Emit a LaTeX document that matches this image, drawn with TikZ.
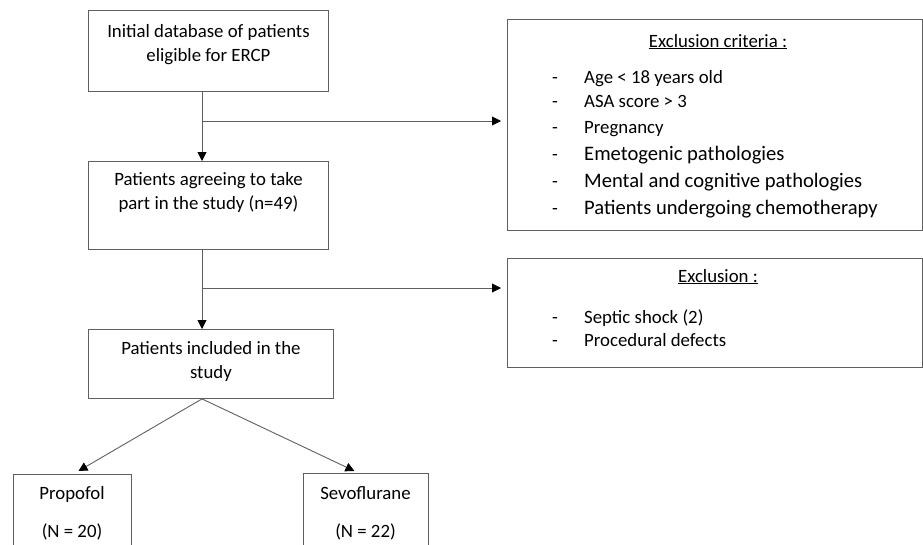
\documentclass[tikz,border=0pt]{standalone}
\usepackage{fontspec}
\setmainfont{Carlito}
\usepackage{xcolor}
\usetikzlibrary{arrows.meta}
\definecolor{linegray}{RGB}{95,95,95}
\tikzstyle{box} = [draw=linegray, line width=0.9pt, inner sep=0pt, anchor=north west]
\tikzstyle{boxtext} = [align=center, anchor=north, inner sep=0pt, font=\fontsize{18.8}{24}\selectfont]
\tikzstyle{txt} = [anchor=base, inner sep=0pt, font=\fontsize{18.8}{24}\selectfont]
\tikzstyle{item} = [anchor=base west, inner sep=0pt, font=\fontsize{18.8}{24}\selectfont]
\tikzstyle{bigitem} = [anchor=base west, inner sep=0pt, font=\fontsize{20.6}{24}\selectfont]
\tikzstyle{arrow} = [draw=linegray, line width=0.9pt, -{Triangle[length=9pt,width=9pt,color=black]}]

\begin{document}
\begin{tikzpicture}[x=1pt, y=-1pt]
\useasboundingbox (0,0) rectangle (923,544);
\clip (0,0) rectangle (923,544);

% left column
\node[box, minimum width=240, minimum height=81] (init) at (88,10) {};
\node[boxtext] (initT) at ([yshift=-14.5pt]init.north) {Initial database of patients\\eligible for ERCP};
\node[box, minimum width=240, minimum height=88] (agree) at (88,161) {};
\node[boxtext] (agreeT) at ([yshift=-11.5pt]agree.north) {Patients agreeing to take\\part in the study (n=49)};
\node[box, minimum width=245, minimum height=69] (incl) at (88,329) {};
\node[boxtext] (inclT) at ([yshift=-12.5pt]incl.north) {Patients included in the\\study};

% groups
\node[box, minimum width=118, minimum height=90] (propo) at (13,474) {};
\node[txt] (propoT) at (72,499) {Propofol};
\node[txt] (propoN) at (72,537) {(N = 20)};
\node[box, minimum width=125, minimum height=90] (sevo) at (303,473) {};
\node[txt] (sevoT) at (365.5,499) {Sevoflurane};
\node[txt] (sevoN) at (365.5,537) {(N = 22)};

% exclusion criteria
\node[box, minimum width=415, minimum height=211] (crit) at (507,19) {};
\node[txt] (critT) at (718,47) {\underline{Exclusion criteria :}};
\node[txt] (h1) at (555,83) {-};
\node[item] (c1) at (584,83) {Age < 18 years old};
\node[txt] (h2) at (555,107) {-};
\node[item] (c2) at (584,107) {ASA score > 3};
\node[txt] (h3) at (555,133) {-};
\node[item] (c3) at (584,133) {Pregnancy};
\node[txt] (h4) at (555,160) {-};
\node[bigitem] (c4) at (584,160) {Emetogenic pathologies};
\node[txt] (h5) at (555,187) {-};
\node[bigitem] (c5) at (584,187) {Mental and cognitive pathologies};
\node[txt] (h6) at (555,214) {-};
\node[bigitem] (c6) at (584,214) {Patients undergoing chemotherapy};

% exclusion
\node[box, minimum width=415, minimum height=109] (excl) at (507,258) {};
\node[txt] (exclT) at (718,282) {\underline{Exclusion :}};
\node[txt] (h7) at (555,323) {-};
\node[item] (e1) at (584,323) {Septic shock (2)};
\node[txt] (h8) at (555,346) {-};
\node[item] (e2) at (584,346) {Procedural defects};

% connectors
\coordinate (b1) at (202,121);
\coordinate (b2) at (202,288);
\draw[arrow] (b1 |- init.south) -- (b1 |- agree.north);
\draw[arrow, shorten >=6pt] (b1) -- (b1 -| crit.west);
\draw[arrow] (b2 |- agree.south) -- (b2 |- incl.north);
\draw[arrow, shorten >=6pt] (b2) -- (b2 -| excl.west);
\draw[arrow] (b2 |- incl.south) -- ([xshift=6pt,yshift=3pt]propo.north);
\draw[arrow] (b2 |- incl.south) -- ([xshift=-11.5pt,yshift=2pt]sevo.north);
\end{tikzpicture}
\end{document}
